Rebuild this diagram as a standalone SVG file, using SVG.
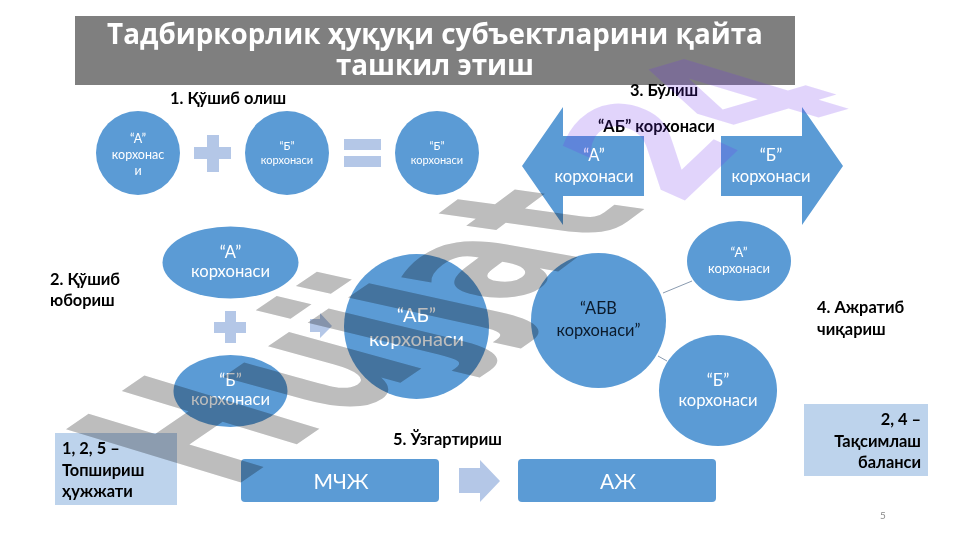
<svg xmlns="http://www.w3.org/2000/svg" width="961" height="540" viewBox="0 0 961 540">
<style>
text{font-family:"Lato","Open Sans","Liberation Sans",sans-serif}
.f{fill:#5b9bd5}
.l{fill:#b4c7e7}
.w{fill:#fff;text-anchor:middle}
.b{fill:#000;font-weight:700;font-size:16.4px}
.t{font-family:"Open Sans",sans-serif;font-weight:700;font-size:27.8px;fill:#fff;text-anchor:middle}
.wm{mix-blend-mode:multiply;font-family:"DejaVu Sans",sans-serif;font-weight:700;font-size:100px;fill:#bdbdbd}
.wp{font-family:"DejaVu Sans",sans-serif;font-weight:700;font-size:100px;fill:#7030f0;opacity:.2}
</style>
<rect width="961" height="540" fill="#fff"/>
<g id="title"><rect x="75" y="16" width="720" height="69" fill="#7f7f7f"/>
<text class="t" x="435" y="44">Тадбиркорлик ҳуқуқи субъектларини қайта</text>
<text class="t" x="435" y="75">ташкил этиш</text></g>
<g id="connectors" stroke="#8a9bb0" stroke-width="1"><path d="M663 293L692 281M658 356L667 361" fill="none"/></g>
<g id="s1"><text class="b" x="170" y="104">1. Қўшиб олиш</text></g>
<g id="n1a"><circle class="f" cx="138" cy="153" r="42"/><text class="w" font-size="12.500"><tspan x="138" y="143">“А”</tspan><tspan x="138" y="159">корхонас</tspan><tspan x="138" y="175">и</tspan></text></g>
<g id="plus1"><path class="l" d="M207 135h12v12h12v12h-12v13h-12v-13h-13v-12h13z"/></g>
<g id="n1b"><circle class="f" cx="287" cy="153" r="42"/><text class="w" font-size="11"><tspan x="287" y="150">“Б”</tspan><tspan x="287" y="164">корхонаси</tspan></text></g>
<g id="eq"><rect class="l" x="344" y="139" width="37" height="11"/><rect class="l" x="344" y="156" width="37" height="11"/></g>
<g id="n1c"><circle class="f" cx="437" cy="153" r="42"/><text class="w" font-size="11"><tspan x="437" y="150">“Б”</tspan><tspan x="437" y="164">корхонаси</tspan></text></g>
<g id="s3"><text class="b" x="630" y="96">3. Бўлиш</text><text class="b" x="598" y="132">“АБ” корхонаси</text></g>
<g id="a3l"><path class="f" d="M522 166L563 107V136H644V196H563V225Z"/><text class="w" font-size="16.600"><tspan x="594" y="161">“А”</tspan><tspan x="594" y="182">корхонаси</tspan></text></g>
<g id="a3r"><path class="f" d="M843 166L802 107V136H721V196H802V225Z"/><text class="w" font-size="16.600"><tspan x="771" y="161">“Б”</tspan><tspan x="771" y="182">корхонаси</tspan></text></g>
<g id="s2"><text class="b"><tspan x="50" y="285">2. Қўшиб</tspan><tspan x="50" y="306">юбориш</tspan></text></g>
<g id="n2a"><ellipse class="f" cx="230.500" cy="262.500" rx="68" ry="36"/><text class="w" font-size="16.600"><tspan x="230.500" y="258">“А”</tspan><tspan x="230.500" y="277">корхонаси</tspan></text></g>
<g id="plus2"><path class="l" d="M225 311h11v11h10v11h-10v10h-11v-10h-11v-11h11z"/></g>
<g id="arr2"><path class="l" d="M310 319h10v-6l12 13-12 12v-6h-10z"/></g>
<g id="n2b"><ellipse class="f" cx="230.500" cy="391" rx="57" ry="36"/><text class="w" font-size="16.600"><tspan x="230.500" y="386">“Б”</tspan><tspan x="230.500" y="405">корхонаси</tspan></text></g>
<g id="n2c"><circle class="f" cx="416.500" cy="326.500" r="72.500"/><text class="w" font-size="20"><tspan x="416.500" y="322">“АБ”</tspan><tspan x="416.500" y="346">корхонаси</tspan></text></g>
<g id="n4c"><circle cx="598.500" cy="320.500" r="67.500" class="f"/><text text-anchor="middle" font-size="16.400" fill="#0b1a2b"><tspan x="598.500" y="314">“АБВ</tspan><tspan x="598.500" y="336">корхонаси”</tspan></text></g>
<g id="n4a"><ellipse class="f" cx="739" cy="261" rx="52" ry="40"/><text class="w" font-size="13"><tspan x="739" y="257">“А”</tspan><tspan x="739" y="273">корхонаси</tspan></text></g>
<g id="n4b"><ellipse class="f" cx="718" cy="390.500" rx="59" ry="55.500"/><text class="w" font-size="16.600"><tspan x="718" y="386">“Б”</tspan><tspan x="718" y="406">корхонаси</tspan></text></g>
<g id="s4"><text class="b"><tspan x="817" y="313">4. Ажратиб</tspan><tspan x="817" y="335">чиқариш</tspan></text></g>
<g id="box2"><rect x="804" y="404" width="124" height="72" fill="#bdd3ec"/><text class="b" text-anchor="end"><tspan x="921" y="425">2, 4 –</tspan><tspan x="921" y="447">Тақсимлаш</tspan><tspan x="921" y="468">баланси</tspan></text></g>
<g id="box1"><rect x="55" y="433" width="122" height="72" fill="#bdd3ec"/><text class="b"><tspan x="62" y="454">1, 2, 5 –</tspan><tspan x="62" y="476">Топшириш</tspan><tspan x="62" y="497">ҳужжати</tspan></text></g>
<g id="s5"><text class="b" x="393" y="445">5. Ўзгартириш</text></g>
<g id="mchj"><rect class="f" x="241" y="459" width="198" height="43" rx="4"/><text class="w" x="341" y="489" font-size="21">МЧЖ</text></g>
<g id="arr5"><path class="l" d="M459 468h21v-8l20 21-20 21v-9h-21z"/></g>
<g id="aj"><rect class="f" x="518" y="459" width="198" height="43" rx="4"/><text class="w" x="618" y="489" font-size="21">АЖ</text></g>
<text x="883" y="519" text-anchor="middle" font-size="10" fill="#8a8a8a">5</text>
<g id="watermark">
<text class="wm" transform="matrix(1.2 -.82 2.4 .73 230 490)">H</text>
<text class="wm" transform="matrix(1.2 -.82 2.42 .67 346 420)">u</text>
<text class="wm" transform="matrix(1.2 -.82 2.44 .59 431 362)">j</text>
<text class="wm" transform="matrix(1.2 -.82 2.45 .54 472 334)">j</text>
<text class="wm" transform="matrix(1.1 -.82 2.27 .4 512 306)">a</text>
<text class="wm" transform="matrix(1.1 -.82 2.4 .33 596 245)">t</text>
<text class="wp" transform="matrix(1 -.95 1.75 .78 677 208)">2</text>
<text class="wp" transform="matrix(1.7 -.5 2.26 .68 756 136)">4</text>
</g>
</svg>
